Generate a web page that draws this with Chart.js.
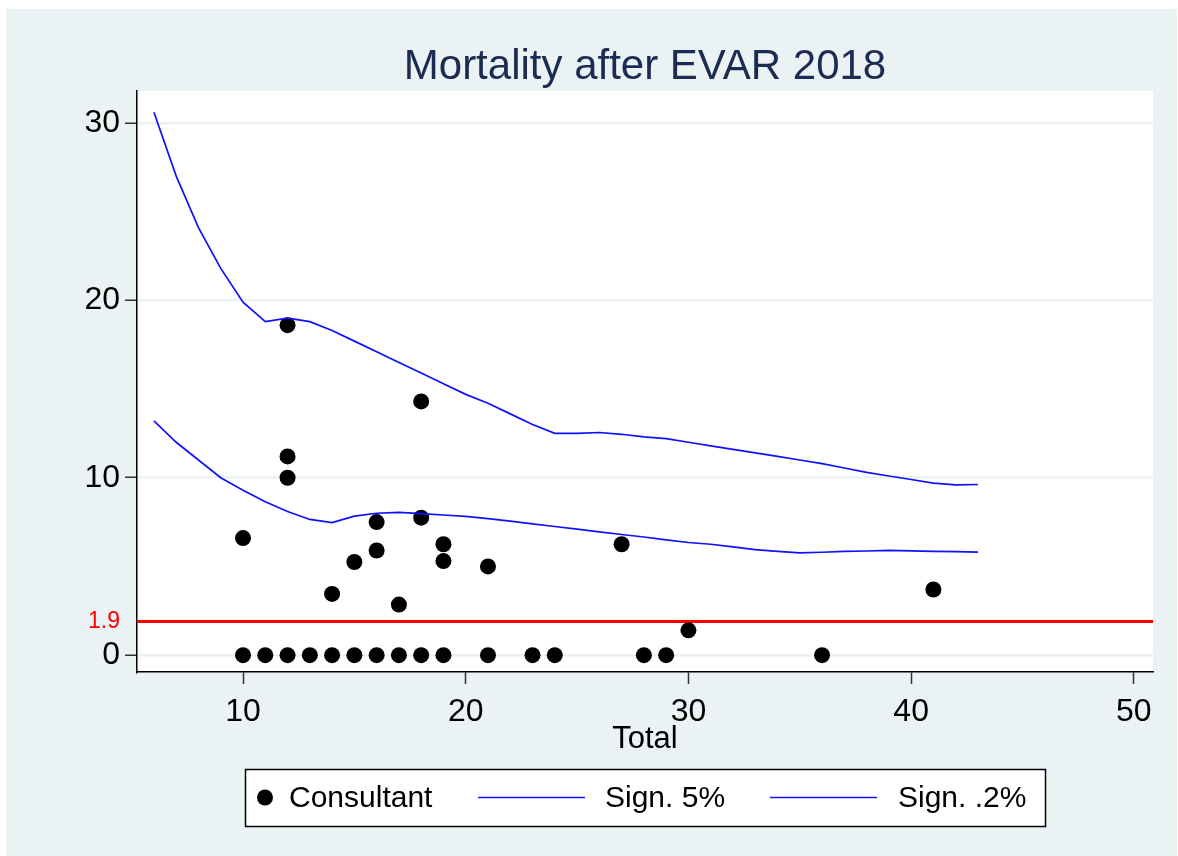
<!DOCTYPE html>
<html>
<head>
<meta charset="utf-8">
<script src="https://cdn.jsdelivr.net/npm/chart.js@4/dist/chart.umd.min.js"></script>
<style>
  html, body { margin: 0; padding: 0; background: #ffffff; }
  #wrap { width: 1178px; height: 856px; position: relative; }
</style>
</head>
<body>
<div id="wrap"><canvas id="chart" width="1178" height="856"></canvas></div>
<script>
// Consultant results (Total cases vs mortality %)
const consultantTotal = [10, 11, 12, 13, 14, 15, 16, 17, 18, 19, 21, 23, 24, 28, 29, 36,
                         10, 12, 12, 12, 14, 15, 16, 16, 17, 18, 18, 19, 19, 21, 27, 30, 41];
const consultantMortality = [0, 0, 0, 0, 0, 0, 0, 0, 0, 0, 0, 0, 0, 0, 0, 0,
                             6.6, 10.0, 11.2, 18.6, 3.45, 5.25, 5.9, 7.5, 2.85, 7.75, 14.3, 6.25, 5.3, 5.0, 6.25, 1.4, 3.7];

// Funnel limits
const limitTotal = [6, 7, 8, 9, 10, 11, 12, 13, 14, 15, 16, 17, 18, 19, 20, 21, 22, 23, 24,
                    25, 26, 27, 28, 29, 30, 31, 32, 33, 34, 35, 36, 37, 38, 39, 40, 41, 42, 43];
const sign5 = [13.2, 12.0, 11.0, 10.0, 9.3, 8.65, 8.1, 7.65, 7.47, 7.84, 8.0, 8.05, 7.98, 7.9, 7.82, 7.7, 7.55, 7.4, 7.25,
               7.1, 6.95, 6.8, 6.66, 6.5, 6.35, 6.25, 6.1, 5.95, 5.85, 5.76, 5.8, 5.85, 5.87, 5.91, 5.88, 5.85, 5.83, 5.81];
const sign02 = [30.6, 27.0, 24.1, 21.8, 19.9, 18.8, 19.0, 18.8, 18.3, 17.7, 17.1, 16.5, 15.9, 15.3, 14.7, 14.2, 13.6, 13.0, 12.5,
                12.5, 12.55, 12.45, 12.3, 12.2, 12.0, 11.8, 11.6, 11.4, 11.2, 11.0, 10.8, 10.55, 10.3, 10.1, 9.9, 9.7, 9.6, 9.62];

const averageMortality = 1.9;
const yTicks = [0, 1.9, 10, 20, 30];
const xTicks = [10, 20, 30, 40, 50];

const titleText = 'Mortality after EVAR 2018';
const xTitle = 'Total';
const FONT = "'Liberation Sans', Arial, Helvetica, sans-serif";
const BG = '#eaf2f3';
const BLUE = '#1010ff';

function toPoints(xs, ys) {
  return xs.map((x, i) => ({ x: x, y: ys[i] }));
}

// background, white plot region and the average line
const framePlugin = {
  id: 'frame',
  beforeDraw(chart) {
    const ctx = chart.ctx, a = chart.chartArea;
    ctx.save();
    ctx.fillStyle = '#ffffff';
    ctx.fillRect(0, 0, chart.width, chart.height);
    ctx.fillStyle = BG;
    ctx.fillRect(6, 9, chart.width - 7, chart.height - 9);
    ctx.fillStyle = '#ffffff';
    ctx.fillRect(a.left, a.top, a.right - a.left, a.bottom - a.top);
    ctx.restore();
  },
  beforeDatasetsDraw(chart) {
    const ctx = chart.ctx, a = chart.chartArea;
    const y = chart.scales.y.getPixelForValue(averageMortality);
    ctx.save();
    ctx.strokeStyle = '#ff0000';
    ctx.lineWidth = 3;
    ctx.beginPath();
    ctx.moveTo(a.left, y);
    ctx.lineTo(a.right, y);
    ctx.stroke();
    ctx.restore();
  },
  afterDraw(chart) {
    const ctx = chart.ctx, a = chart.chartArea;
    ctx.save();
    // title centred over the plot region
    ctx.fillStyle = '#1c2b52';
    ctx.font = '42px ' + FONT;
    ctx.textAlign = 'center';
    ctx.textBaseline = 'alphabetic';
    ctx.fillText(titleText, (a.left + a.right) / 2, 79);

    // legend box
    const lx = 245, ly = 769, lw = 800, lh = 57;
    ctx.fillStyle = '#ffffff';
    ctx.fillRect(lx, ly, lw, lh);
    ctx.strokeStyle = '#000000';
    ctx.lineWidth = 1.5;
    ctx.strokeRect(lx + 0.5, ly + 0.5, lw, lh);
    const cy = ly + lh / 2;
    ctx.font = '30px ' + FONT;
    ctx.textAlign = 'left';
    ctx.textBaseline = 'middle';
    const ds = chart.data.datasets;
    // scatter item
    ctx.fillStyle = '#000000';
    ctx.beginPath();
    ctx.arc(265, cy, 8, 0, Math.PI * 2);
    ctx.fill();
    ctx.fillText(ds[0].label, 289, cy + 1);
    // line items
    const items = [[478, 585, 605, ds[1]], [770, 877, 898, ds[2]]];
    items.forEach(it => {
      ctx.strokeStyle = it[3].borderColor;
      ctx.lineWidth = 1.6;
      ctx.beginPath();
      ctx.moveTo(it[0], cy);
      ctx.lineTo(it[1], cy);
      ctx.stroke();
      ctx.fillStyle = '#000000';
      ctx.fillText(it[3].label, it[2], cy + 1);
    });
    ctx.restore();
  }
};

const ctx = document.getElementById('chart').getContext('2d');
const chart = new Chart(ctx, {
  data: {
    datasets: [
      {
        type: 'scatter',
        label: 'Consultant',
        data: toPoints(consultantTotal, consultantMortality),
        backgroundColor: '#000000',
        borderColor: '#000000',
        pointRadius: 8,
        pointBorderWidth: 0,
        order: 3
      },
      {
        type: 'line',
        label: 'Sign. 5%',
        data: toPoints(limitTotal, sign5),
        borderColor: BLUE,
        borderWidth: 1.7,
        pointRadius: 0,
        tension: 0,
        fill: false,
        order: 1
      },
      {
        type: 'line',
        label: 'Sign. .2%',
        data: toPoints(limitTotal, sign02),
        borderColor: BLUE,
        borderWidth: 1.7,
        pointRadius: 0,
        tension: 0,
        fill: false,
        order: 2
      }
    ]
  },
  options: {
    responsive: false,
    animation: false,
    devicePixelRatio: 1,
    layout: { padding: { left: 0, right: 25, top: 91, bottom: 98 } },
    plugins: {
      legend: { display: false },
      title: { display: false },
      tooltip: { enabled: false }
    },
    scales: {
      x: {
        type: 'linear',
        min: 5.24,
        max: 50.86,
        afterBuildTicks: s => { s.ticks = xTicks.map(v => ({ value: v })); },
        afterFit: s => { s.height = 86; },
        ticks: {
          color: '#000000',
          font: { family: FONT, size: 32 },
          padding: 9,
          maxRotation: 0
        },
        grid: { drawOnChartArea: false, tickLength: 12, tickColor: '#333333', tickWidth: 1.5 },
        border: { display: true, color: '#000000', width: 1.5 },
        title: {
          display: true,
          text: xTitle,
          color: '#000000',
          font: { family: FONT, size: 31 },
          padding: { top: -10, bottom: 0 }
        }
      },
      y: {
        type: 'linear',
        min: -0.95,
        max: 31.8,
        afterBuildTicks: s => { s.ticks = yTicks.map(v => ({ value: v })); },
        afterFit: s => { s.width = 137; },
        ticks: {
          color: c => (c.tick.value === averageMortality ? '#ff0000' : '#000000'),
          font: c => ({ family: FONT, size: c.tick && c.tick.value === averageMortality ? 23 : 32 }),
          padding: 5,
          callback: v => String(v)
        },
        grid: {
          color: c => (c.tick && c.tick.value === averageMortality ? 'rgba(0,0,0,0)' : BG),
          lineWidth: 2.5,
          tickLength: 12,
          tickColor: c => (c.tick && c.tick.value === averageMortality ? 'rgba(0,0,0,0)' : '#333333'),
          tickWidth: 1.5
        },
        border: { display: true, color: '#000000', width: 1.5 }
      }
    }
  },
  plugins: [framePlugin]
});
</script>
</body>
</html>
